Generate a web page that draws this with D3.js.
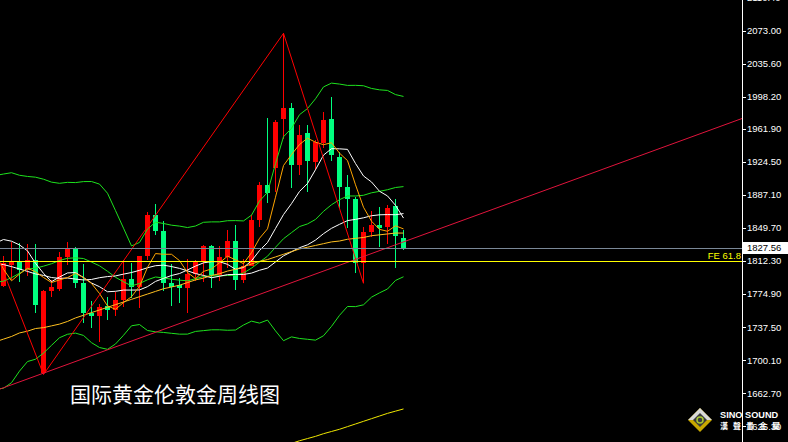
<!DOCTYPE html>
<html><head><meta charset="utf-8">
<script src="https://cdn.jsdelivr.net/npm/d3@7"></script>
<style>html,body{margin:0;padding:0;background:#000;overflow:hidden}svg{display:block}</style>
</head><body><svg id="c" width="788" height="442"></svg>
<script>
// ---- data (weekly XAUUSD) ----
const weeks = ["2021-06-28","2021-07-05","2021-07-12","2021-07-19","2021-07-26","2021-08-02","2021-08-09","2021-08-16","2021-08-23","2021-08-30",
"2021-09-06","2021-09-13","2021-09-20","2021-09-27","2021-10-04","2021-10-11","2021-10-18","2021-10-25","2021-11-01","2021-11-08",
"2021-11-15","2021-11-22","2021-11-29","2021-12-06","2021-12-13","2021-12-20","2021-12-27","2022-01-03","2022-01-10","2022-01-17",
"2022-01-24","2022-01-31","2022-02-07","2022-02-14","2022-02-21","2022-02-28","2022-03-07","2022-03-14","2022-03-21","2022-03-28",
"2022-04-04","2022-04-11","2022-04-18","2022-04-25","2022-05-02","2022-05-09","2022-05-16","2022-05-23","2022-05-30","2022-06-06",
"2022-06-13","2022-06-20"];
const open  = [1781,1784,1808,1812,1802,1814,1686,1778,1781,1817,1827,1787,1754,1750,1761,1757,1768,1792,1783,1818,1865,1846,1788,1785,1782,1798,1811,1829,1797,1817,1835,1791,1807,1859,1898,1918,1973,1986,1921,1957,1924,1946,1973,1930,1896,1883,1810,1845,1853,1851,1875,1838];
const high  = [1795,1818,1834,1833,1832,1832,1780,1791,1823,1834,1828,1809,1767,1764,1772,1777,1814,1810,1818,1868,1877,1858,1809,1793,1815,1814,1831,1831,1829,1848,1853,1815,1865,1902,1974,1972,2070,1991,1966,1966,1949,1981,1998,1936,1910,1885,1851,1869,1873,1876,1882,1847];
const low   = [1750,1783,1791,1789,1795,1753,1684,1772,1778,1808,1782,1742,1737,1721,1746,1750,1760,1770,1759,1813,1842,1778,1762,1765,1753,1790,1789,1782,1790,1805,1780,1788,1807,1851,1878,1890,1950,1895,1910,1890,1915,1940,1925,1872,1850,1799,1787,1840,1828,1832,1805,1825];
const close = [1783,1810,1812,1802,1814,1763,1778,1783,1817,1827,1787,1754,1750,1760,1757,1768,1792,1783,1818,1865,1846,1788,1783,1782,1798,1811,1829,1797,1817,1835,1791,1807,1859,1898,1889,1970,1986,1921,1955,1925,1947,1972,1932,1896,1883,1810,1845,1853,1850,1872,1841,1827.56];
// weekly closes before the first week (Dec 2020 - Jun 2021), for the averages
const priorCloses = [1839,1881,1883,1895,1849,1828,1855,1847,1813,1824,1783,1734,1700,1719,1745,1732,1728,1744,1777,1777,1769,1831,1844,1881,1904,1892,1877,1764,1781];
// slow moving average (gold line)
const slowMA = [1721,1724,1727,1731,1733,1736,1737,1739,1741,1744,1748,1751,1754,1757,1760,1763,1766,1769,1772,1775,1778,1781,1783,1785,1788,1791,1793,1796,1798,1801,1803,1806,1809,1812,1814,1817,1820,1823,1826,1828,1830,1832,1834,1835,1837,1838,1839,1841,1842,1843,1844,1844];
// very long moving average (yellow line at the bottom)
const longMA = [null,null,null,null,null,null,null,null,null,null,null,null,null,null,null,null,null,null,null,null,null,null,null,null,null,null,null,null,null,null,null,null,null,null,null,1600,1603,1606,1609,1611.5,1614,1617,1619.5,1622,1625,1628,1631,1634,1637,1640,1642.5,1645];
// ZigZag pivots {week index, price}
const zigzag = [{i:-5,p:1916},{i:5,p:1684},{i:35,p:2070},{i:45,p:1787}];
// trend line anchors
const trendAnchors = [{i:5,p:1685.5},{i:50,p:1834.0}];
const currentPrice = 1827.56;
const feLevel = 1812.3;
const feLabel = "FE 61.8";
const tickLabels = ["2110.40","2073.00","2035.60","1998.20","1961.90","1924.50","1887.10","1849.70","1812.30","1774.90","1737.50","1700.10","1662.70","1625.30"];
const title = "国际黄金伦敦金周线图";

// ---- chart ----
const W = 788, H = 442, plotW = 742;
const svg = d3.select('#c');
svg.append('rect').attr('width', W).attr('height', H).attr('fill', '#000');

const x = d3.scaleLinear().domain([0, 50]).range([3.5, 403.5]);
const y = d3.scaleLinear().domain([1607.6, 2107.7]).range([H, 0]);

const defs = svg.append('defs');
defs.append('clipPath').attr('id', 'clip').append('rect').attr('width', plotW).attr('height', H);
const g = svg.append('g').attr('clip-path', 'url(#clip)');

const bars = weeks.map((w, k) => ({w, i: k - 1, o: open[k], h: high[k], l: low[k], c: close[k]}));

// moving averages
const allCloses = priorCloses.concat(close);
function sma(n) {
  return close.map((c, k) => {
    const p = priorCloses.length + k;
    return d3.mean(allCloses.slice(p - n + 1, p + 1));
  });
}
function bands(n, dev) {
  const up = [], lo = [];
  close.forEach((c, k) => {
    const p = priorCloses.length + k;
    const win = allCloses.slice(p - n + 1, p + 1);
    const m = d3.mean(win);
    const sd = Math.sqrt(d3.mean(win, v => (v - m) * (v - m)));
    up.push(m + dev * sd); lo.push(m - dev * sd);
  });
  return {up, lo};
}
const ma5 = sma(5), ma10 = sma(10), ma20 = sma(20), ma30 = sma(30);
const bb = bands(20, 2);

// candles
const candles = g.append('g');
bars.forEach(d => {
  const up = d.c >= d.o;
  const col = up ? '#ff0000' : '#00ff7f';
  candles.append('line')
    .attr('x1', x(d.i)).attr('x2', x(d.i))
    .attr('y1', y(d.h)).attr('y2', y(d.l))
    .attr('stroke', col).attr('stroke-width', 1).attr('shape-rendering', 'crispEdges');
  const top = y(Math.max(d.o, d.c)), bot = y(Math.min(d.o, d.c));
  candles.append('rect')
    .attr('x', x(d.i) - 2.5).attr('width', 5)
    .attr('y', top).attr('height', Math.max(1, bot - top))
    .attr('fill', col).attr('shape-rendering', 'crispEdges');
});

function drawSeries(vals, color) {
  const line = d3.line().defined(d => d.v != null).x(d => x(d.i)).y(d => y(d.v));
  g.append('path')
    .datum(vals.map((v, k) => ({i: k - 1, v})))
    .attr('d', line).attr('fill', 'none').attr('stroke', color).attr('stroke-width', 1);
}
drawSeries(bb.up, '#1ee21e');
drawSeries(bb.lo, '#1ee21e');
drawSeries(ma20, '#1ee21e');
drawSeries(ma30, '#ffffff');
drawSeries(ma10, '#ffffff');
drawSeries(ma5, '#ffa500');
drawSeries(slowMA, '#ffc020');
drawSeries(longMA, '#f0e800');

// zigzag
g.append('path')
  .datum(zigzag)
  .attr('d', d3.line().x(d => x(d.i)).y(d => y(d.p)))
  .attr('fill', 'none').attr('stroke', '#ff0000').attr('stroke-width', 1);

// trend line (extended)
const tp = d3.scaleLinear().domain([trendAnchors[0].i, trendAnchors[1].i]).range([trendAnchors[0].p, trendAnchors[1].p]);
const iEnd = x.invert(plotW + 2), iStart = x.invert(-2);
g.append('line')
  .attr('x1', x(iStart)).attr('y1', y(tp(iStart)))
  .attr('x2', x(iEnd)).attr('y2', y(tp(iEnd)))
  .attr('stroke', '#e0143c').attr('stroke-width', 1);

// horizontal levels
g.append('line').attr('x1', 0).attr('x2', plotW)
  .attr('y1', Math.round(y(currentPrice)) + 0.5).attr('y2', Math.round(y(currentPrice)) + 0.5)
  .attr('stroke', '#7a8898').attr('stroke-width', 1);
g.append('line').attr('x1', 0).attr('x2', plotW)
  .attr('y1', Math.round(y(feLevel)) + 0.5).attr('y2', Math.round(y(feLevel)) + 0.5)
  .attr('stroke', '#ffff00').attr('stroke-width', 1);
svg.append('text').attr('x', 741).attr('y', Math.round(y(feLevel)) - 2)
  .attr('text-anchor', 'end').attr('fill', '#ffff00')
  .attr('font-family', 'Liberation Sans, Arial, sans-serif').attr('font-size', 9.5)
  .text(feLabel);

// title
svg.append('text').attr('x', 70).attr('y', 402)
  .attr('fill', '#ffffff').attr('font-family', '"Noto Sans CJK SC", sans-serif')
  .attr('font-size', 21).text(title);

// price axis
svg.append('line').attr('x1', 742.5).attr('x2', 742.5).attr('y1', 0).attr('y2', H)
  .attr('stroke', '#ffffff').attr('stroke-width', 1);
const ax = svg.append('g');
tickLabels.forEach(t => {
  const yy = y(+t);
  ax.append('line').attr('x1', 743).attr('x2', 746).attr('y1', Math.round(yy) + 0.5).attr('y2', Math.round(yy) + 0.5)
    .attr('stroke', '#ffffff').attr('stroke-width', 1);
  ax.append('text').attr('x', 747).attr('y', yy).attr('dy', '0.35em')
    .attr('fill', '#ffffff').attr('font-family', 'Liberation Sans, Arial, sans-serif')
    .attr('font-size', 9.5).text(t);
});
// current price label
const cy = y(currentPrice);
svg.append('rect').attr('x', 743).attr('y', Math.round(cy) - 6).attr('width', 45).attr('height', 12).attr('fill', '#ffffff');
svg.append('text').attr('x', 747).attr('y', cy).attr('dy', '0.35em')
  .attr('fill', '#000000').attr('font-family', 'Liberation Sans, Arial, sans-serif')
  .attr('font-size', 9.5).text(d3.format('.2f')(currentPrice));

// watermark logo
const lg = svg.append('g').attr('transform', 'translate(700,420)');
lg.append('polygon').attr('points', '0,-12 12,0 0,12 -12,0').attr('fill', '#c8a800');
lg.append('polygon').attr('points', '0,-12 12,0 6,0 0,-6 -6,0 -12,0').attr('fill', '#d8d8d8');
lg.append('polygon').attr('points', '0,-7 7,0 0,7 -7,0').attr('fill', '#3a3a3a');
lg.append('circle').attr('r', 3).attr('fill', 'none').attr('stroke', '#a8c830').attr('stroke-width', 1.5);
svg.append('text').attr('x', 720).attr('y', 418).attr('fill', '#ffffff')
  .attr('font-family', 'Liberation Sans, Arial, sans-serif').attr('font-weight', 'bold')
  .attr('font-size', 9.2).text('SINO SOUND');
svg.append('text').attr('x', 720).attr('y', 429).attr('fill', '#ffffff')
  .attr('font-family', '"Noto Sans CJK TC", sans-serif').attr('font-weight', 'bold')
  .attr('font-size', 8).attr('letter-spacing', 5).text('漢聲貴金屬');
</script>
</body></html>
